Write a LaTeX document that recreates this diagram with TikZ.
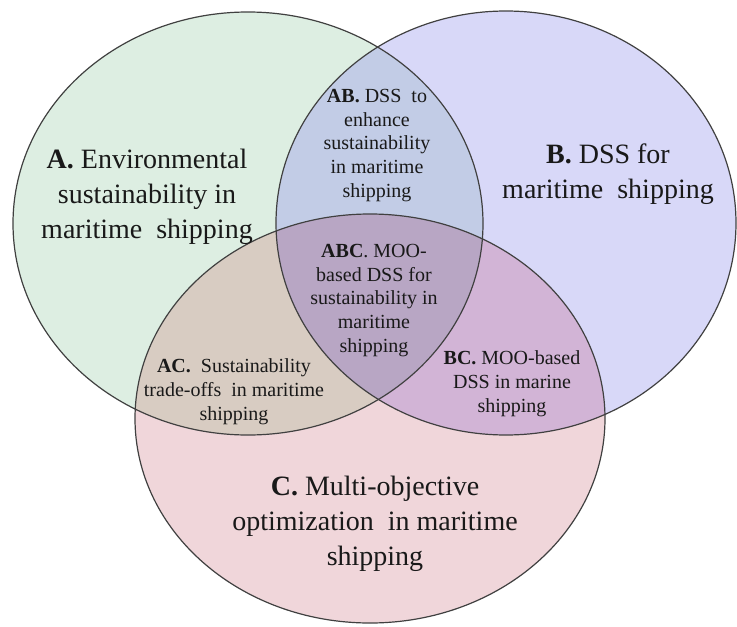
\documentclass[tikz,border=0pt]{standalone}
\usepackage{fontspec}
\setmainfont{Liberation Serif}
\definecolor{colA}{RGB}{221,238,226}
\definecolor{colB}{RGB}{216,216,248}
\definecolor{colC}{RGB}{240,214,218}
\definecolor{colAB}{RGB}{194,204,230}
\definecolor{colAC}{RGB}{216,204,194}
\definecolor{colBC}{RGB}{210,180,214}
\definecolor{colABC}{RGB}{184,166,196}
\definecolor{edge}{RGB}{64,64,64}
\definecolor{ink}{RGB}{25,25,25}
\tikzset{
  bigtext/.style={anchor=base, align=center, text=ink, inner sep=0pt,
    font=\fontsize{28}{35}\selectfont},
  smalltext/.style={anchor=base, align=center, text=ink, inner sep=0pt,
    font=\fontsize{20}{23.6}\selectfont},
  outline/.style={draw=edge, line width=1.2pt}
}
\newcommand{\ellA}{(248,223.5) ellipse [x radius=235, y radius=211.5]}
\newcommand{\ellB}{(506,223) ellipse [x radius=230, y radius=212]}
\newcommand{\ellC}{(370,418.5) ellipse [x radius=235, y radius=204.5]}
\begin{document}
\begin{tikzpicture}[x=1pt, y=-1pt]
\useasboundingbox (0,0) rectangle (737,627);
% base fills
\fill[colA] \ellA;
\fill[colB] \ellB;
\fill[colC] \ellC;
% pairwise overlaps
\begin{scope}\clip \ellA; \fill[colAB] \ellB; \end{scope}
\begin{scope}\clip \ellA; \fill[colAC] \ellC; \end{scope}
\begin{scope}\clip \ellB; \fill[colBC] \ellC; \end{scope}
\begin{scope}\clip \ellA; \clip \ellB; \fill[colABC] \ellC; \end{scope}
% outlines
\draw[outline] \ellA;
\draw[outline] \ellB;
\draw[outline] \ellC;
% labels (anchored at the baseline of the last line)
\node[bigtext] (tA) at (147,238) {\textbf{A.} Environmental\\sustainability in\\maritime\ \ shipping};
\node[bigtext] (tB) at (608,198) {\textbf{B.} DSS for\\maritime\ \ shipping};
\node[bigtext] (tC) at (375,565) {\textbf{C.} Multi-objective\\optimization\ \ in maritime\\shipping};
\node[smalltext] (tAB) at (377,197) {\textbf{AB.} DSS\ \ to\\enhance\\sustainability\\in maritime\\shipping};
\node[smalltext] (tABC) at (374,352) {\textbf{ABC}. MOO-\\based DSS for\\sustainability in\\maritime\\shipping};
\node[smalltext] (tAC) at (234,420) {\textbf{AC.}\ \ Sustainability\\trade-offs\ \ in maritime\\shipping};
\node[smalltext] (tBC) at (512,412) {\textbf{BC.} MOO-based\\DSS in marine\\shipping};
\end{tikzpicture}
\end{document}
